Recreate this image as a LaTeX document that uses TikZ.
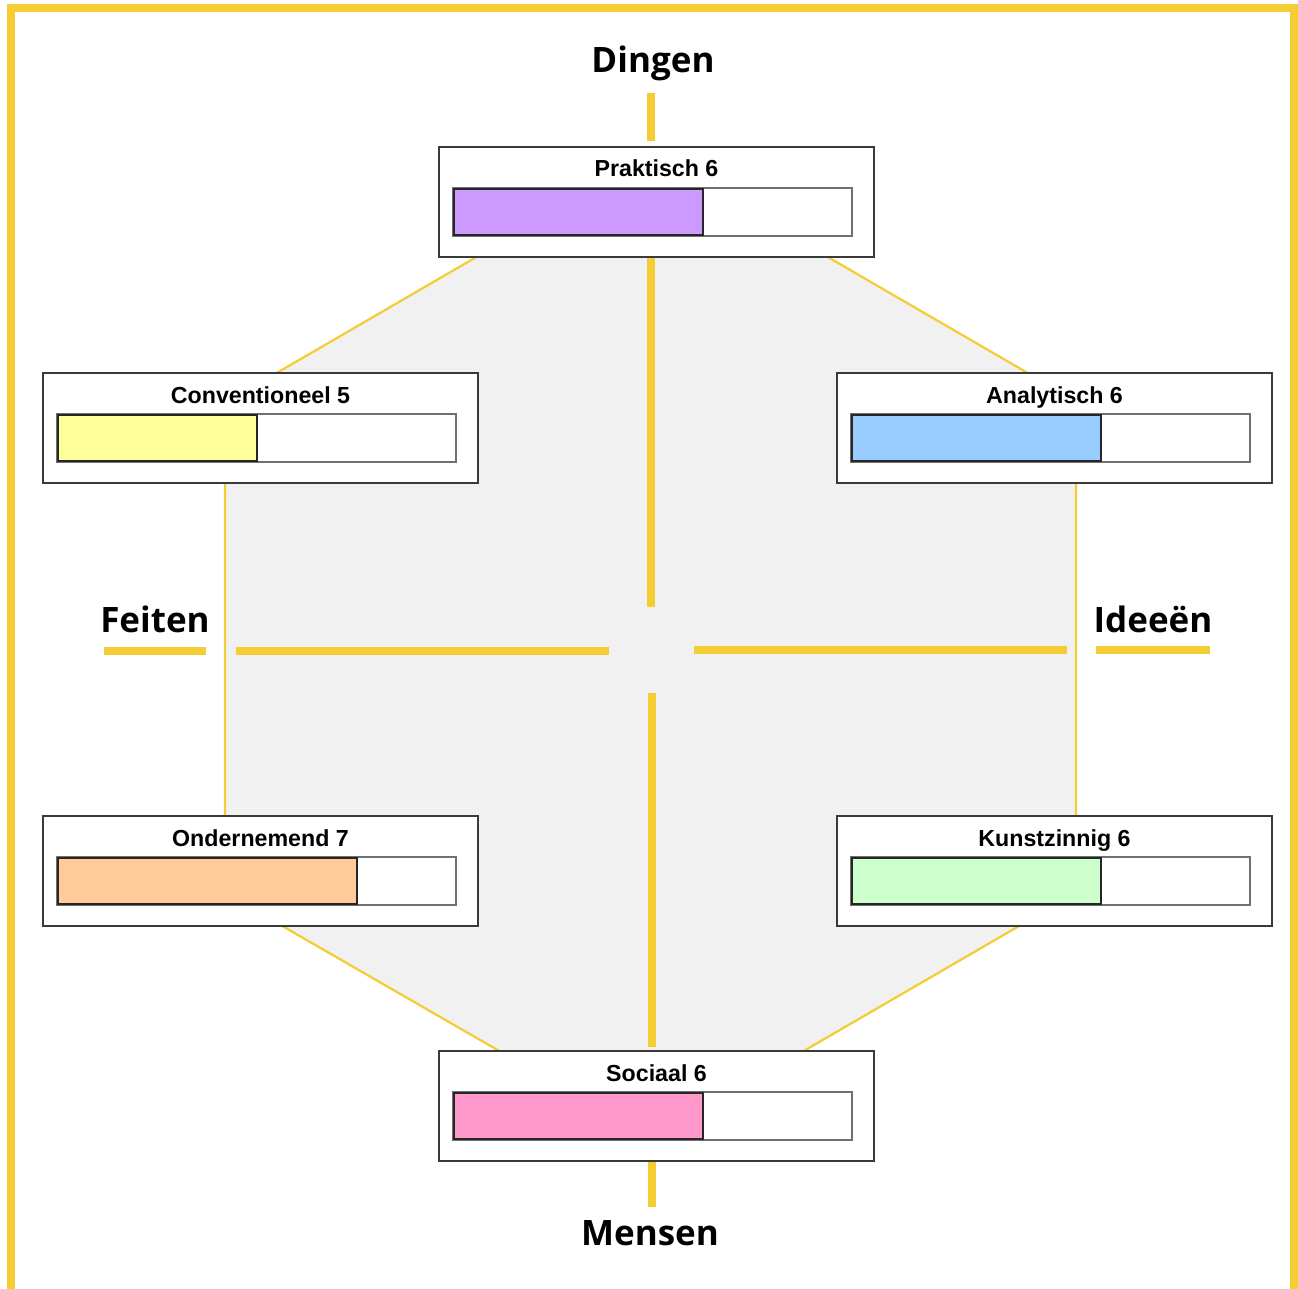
\documentclass[tikz,border=0pt]{standalone}
\usepackage{fontspec}
\setmainfont{Liberation Sans}
\newfontfamily\axisfont{Open Sans}
\usetikzlibrary{calc}
\definecolor{gold}{HTML}{F4CC33}
\definecolor{hexgray}{HTML}{F0F1F0}
\definecolor{boxline}{HTML}{3A3A3A}
\definecolor{barline}{HTML}{707070}
\definecolor{cpurple}{HTML}{CC99FF}
\definecolor{cyellow}{HTML}{FFFF99}
\definecolor{cblue}{HTML}{99CCFF}
\definecolor{corange}{HTML}{FFCC99}
\definecolor{cgreen}{HTML}{CCFFCC}
\definecolor{cpink}{HTML}{FF99CC}
\tikzset{
  scorebox/.style={draw=boxline, line width=1.3, fill=white, minimum width=435, minimum height=110, inner sep=0, outer sep=0, anchor=north west},
  barbox/.style={draw=barline, line width=1.5, fill=white, minimum width=399, minimum height=48, inner sep=0, outer sep=0, anchor=north west},
  boxtitle/.style={font=\fontsize{23.2}{28}\selectfont\bfseries, anchor=base, inner sep=0},
  axislabel/.style={font=\axisfont\fontsize{35}{42}\selectfont\bfseries, anchor=base, inner sep=0},
  axisline/.style={gold, line width=8},
  hexedge/.style={gold, line width=2.2},
}
\newcommand\makescore[6]{% name, x, y, label, score, colour
  \node[scorebox] (#1) at (#2,#3) {};
  \node[boxtitle] (#1-t) at ($(#1.north)+(0,-30)$) {#4};
  \node[barbox] (#1-b) at ($(#1.north west)+(14,-41)$) {};
  \draw[draw=black!85, line width=1.6, fill=#6] ($(#1-b.north west)+(1,-1)$) rectangle ($(#1-b.south west)+({50*(#5-1)},1)$);
}
\begin{document}
\begin{tikzpicture}[x=1pt,y=1pt]
\useasboundingbox (0,0) rectangle (1298,-1289);
% frame
\draw[gold, line width=8] (11,-1300) -- (11,-8) -- (1294,-8) -- (1294,-1300);
% hexagon
\coordinate (h1) at (652,-155);
\coordinate (h2) at (1076,-401);
\coordinate (h3) at (1076,-893);
\coordinate (h4) at (652,-1139);
\coordinate (h5) at (225,-893);
\coordinate (h6) at (225,-403);
\fill[hexgray] (h1) -- (h2) -- (h3) -- (h4) -- (h5) -- (h6) -- cycle;
\draw[hexedge] (h1) -- (h2) -- (h3) -- (h4) -- (h5) -- (h6) -- cycle;
% axis lines
\coordinate (t1) at (651,-93);  \coordinate (t2) at (651,-141);
\coordinate (t3) at (651,-258); \coordinate (t4) at (651,-607);
\coordinate (b1) at (652,-693); \coordinate (b2) at (652,-1047);
\coordinate (b3) at (652,-1162); \coordinate (b4) at (652,-1207);
\coordinate (l1) at (104,-651); \coordinate (l2) at (206,-651);
\coordinate (l3) at (236,-651); \coordinate (l4) at (609,-651);
\coordinate (r1) at (694,-650); \coordinate (r2) at (1067,-650);
\coordinate (r3) at (1096,-650); \coordinate (r4) at (1210,-650);
\draw[axisline] (t1) -- (t2);
\draw[axisline] (t3) -- (t4);
\draw[axisline] (b1) -- (b2);
\draw[axisline] (b3) -- (b4);
\draw[axisline] (l1) -- (l2);
\draw[axisline] (l3) -- (l4);
\draw[axisline] (r1) -- (r2);
\draw[axisline] (r3) -- (r4);
% boxes
\makescore{prak}{439}{-147}{Praktisch 6}{6}{cpurple}
\makescore{conv}{43}{-373}{Conventioneel 5}{5}{cyellow}
\makescore{anal}{837}{-373}{Analytisch 6}{6}{cblue}
\makescore{onde}{43}{-816}{Ondernemend 7}{7}{corange}
\makescore{kuns}{837}{-816}{Kunstzinnig 6}{6}{cgreen}
\makescore{soci}{439}{-1051}{Sociaal 6}{6}{cpink}
% axis labels
\node[axislabel] (dingen) at (653,-73) {Dingen};
\node[axislabel] (mensen) at (650,-1245) {Mensen};
\node[axislabel] (feiten) at (155,-632) {Feiten};
\node[axislabel] (ideeen) at (1153,-632) {Ideeën};
\end{tikzpicture}
\end{document}
